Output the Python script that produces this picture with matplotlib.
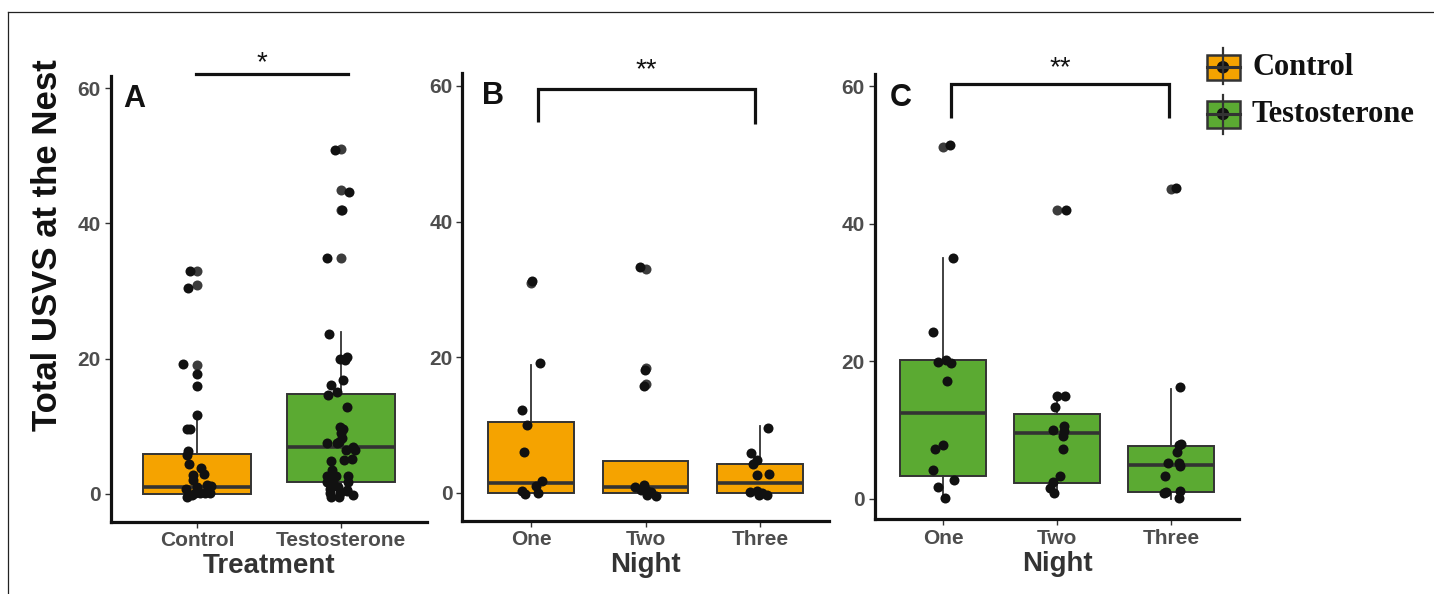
import numpy as np
import matplotlib
matplotlib.use('Agg')
import matplotlib.pyplot as plt
from matplotlib.patches import Rectangle, Circle
from matplotlib.lines import Line2D

plt.rcParams['font.family'] = ['Liberation Sans', 'DejaVu Sans']

ORANGE = '#F5A300'
GREEN = '#5BAA32'
EDGE = '#333333'
TXT = '#4D4D4D'

# ---------------- data ----------------
# Panel A: treatment
A_groups = ['Control', 'Testosterone']
A_box = [dict(q1=0.0, med=1.0, q3=5.9, whislo=0.0, whishi=11.7),
         dict(q1=1.8, med=7.0, q3=14.8, whislo=0.0, whishi=23.9)]
A_ctrl_y = [32.9, 30.5, 19.2, 17.7, 16.0, 11.7, 9.6, 9.6, 6.3, 5.8, 4.4, 3.8, 2.9, 2.8,
            2.1, 1.1, 1.3, 1.2, 0.7, 0.2, 0.1, 0.1, -0.4, -0.15, 0.1]
A_ctrl_dx = [-0.05, -0.064, -0.095, 0.0, 0.0, 0.0, -0.07, -0.05, -0.06, -0.067, -0.058, 0.03,
             0.05, -0.03, -0.025, 0.0, 0.067, 0.095, -0.076, 0.021, 0.056, 0.09, -0.072,
             -0.037, -0.014]
A_ctrl_out = [32.9, 30.9, 19.0]
A_test_y = [50.8, 44.7, 42.0, 34.9, 23.7, 20.0, 20.2, 19.8, 16.9, 16.1, 15.1, 14.6, 12.8,
            9.9, 9.6, 9.0, 8.2, 7.6, 7.5, 7.7, 6.5, 7.0, 6.5, 5.0, 5.1, 4.8, 3.6, 2.7, 2.6,
            2.6, 1.7, 1.7, 1.7, 0.8, 1.1, 0.6, 0.1, 0.1, 0.5, -0.5, -0.5, -0.2]
A_test_dx = [-0.042, 0.058, 0.005, -0.097, -0.083, -0.007, 0.044, 0.028, 0.012, -0.072,
             -0.03, -0.088, 0.044, -0.007, 0.012, -0.002, 0.005, -0.095, -0.026, -0.012,
             0.035, 0.085, 0.097, 0.021, 0.074, -0.072, -0.06, -0.095, -0.035, 0.051, -0.1,
             -0.053, 0.051, -0.076, -0.019, 0.04, -0.076, -0.007, 0.04, -0.072, -0.012, 0.085]
A_test_out = [51.0, 44.9, 42.0, 34.9]

# Panels B (control) and C (testosterone): night
nights = ['One', 'Two', 'Three']
B_box = [dict(q1=0.0, med=1.5, q3=10.4, whislo=0.0, whishi=18.9),
         dict(q1=0.0, med=0.9, q3=4.7, whislo=0.0, whishi=4.7),
         dict(q1=0.0, med=1.5, q3=4.2, whislo=0.0, whishi=9.9)]
B_y = [[31.3, 19.2, 12.2, 10.0, 6.0, 1.8, 1.0, 0.25, -0.15, -0.05],
       [33.3, 18.1, 15.8, 0.9, 1.2, 0.4, 0.2, -0.3, -0.4, 0.4],
       [9.6, 5.85, 4.9, 4.3, 2.65, 2.8, 0.2, 0.35, -0.3, -0.35, 0.05]]
B_dx = [[0.012, 0.08, -0.076, -0.035, -0.059, 0.093, 0.044, -0.08, -0.052, 0.064],
        [-0.046, -0.003, -0.015, -0.09, -0.015, 0.006, 0.05, 0.011, 0.093, -0.038],
        [0.067, -0.079, -0.029, -0.059, -0.029, 0.079, -0.087, -0.029, -0.006, 0.064, 0.015]]
B_out = [[31.0], [33.0, 18.4, 16.0], []]

C_box = [dict(q1=3.3, med=12.5, q3=20.2, whislo=0.0, whishi=35.0),
         dict(q1=2.3, med=9.6, q3=12.35, whislo=0.8, whishi=15.0),
         dict(q1=1.0, med=4.9, q3=7.7, whislo=0.0, whishi=16.0)]
C_y = [[51.4, 35.0, 24.3, 19.9, 20.2, 19.8, 17.2, 7.8, 7.2, 4.2, 2.8, 1.7, 0.1],
       [42.0, 15.0, 14.9, 13.3, 10.0, 10.6, 9.9, 9.15, 7.2, 3.3, 2.5, 1.55, 0.83],
       [45.2, 16.3, 7.9, 8.0, 6.9, 5.2, 5.2, 4.8, 3.3, 0.9, 1.0, 1.1, 0.1]]
C_dx = [[0.064, 0.085, -0.085, -0.046, 0.026, 0.068, 0.038, 0.003, -0.073, -0.085, 0.094,
         -0.041, 0.018],
        [0.079, 0.07, -0.003, -0.018, -0.038, 0.061, 0.061, 0.055, 0.05, 0.026, -0.032,
         -0.061, -0.026],
        [0.047, 0.082, 0.067, 0.088, 0.053, -0.026, 0.067, 0.082, -0.05, -0.064, -0.041,
         0.082, 0.067]]
C_out = [[51.2], [42.0], [45.0]]

W, H = 1434, 594
fig = plt.figure(figsize=(W / 100, H / 100), dpi=100)


def px_axes(x0, x1, ytop, ybot):
    return fig.add_axes([x0 / W, 1 - ybot / H, (x1 - x0) / W, (ybot - ytop) / H])


def style(ax, labels, xlim, ylim, xlabel):
    ax.set_xlim(*xlim)
    ax.set_ylim(*ylim)
    for s in ['top', 'right']:
        ax.spines[s].set_visible(False)
    for s in ['left', 'bottom']:
        ax.spines[s].set_linewidth(2.3)
        ax.spines[s].set_color('#111111')
    ax.set_xticks(range(1, len(labels) + 1))
    ax.set_xticklabels(labels)
    ax.set_yticks([0, 20, 40, 60])
    ax.tick_params(length=4, width=1, color=EDGE, labelcolor=TXT, labelsize=15, pad=3)
    for t in ax.get_xticklabels() + ax.get_yticklabels():
        t.set_fontweight('bold')
    ax.set_xlabel(xlabel, fontsize=20, fontweight='bold', color='#333333', labelpad=2)
    ax.patch.set_alpha(0)


def boxes(ax, stats, colors, ys, dxs, outs):
    bp = ax.bxp(stats, positions=range(1, len(stats) + 1), widths=0.75, patch_artist=True,
                showfliers=False, showcaps=False,
                boxprops=dict(edgecolor=EDGE, linewidth=1.4),
                medianprops=dict(color=EDGE, linewidth=2.6),
                whiskerprops=dict(color=EDGE, linewidth=1.3))
    for b, c in zip(bp['boxes'], colors):
        b.set_facecolor(c)
    for i, (y, dx, o) in enumerate(zip(ys, dxs, outs)):
        pos = i + 1
        if o:
            ax.scatter([pos] * len(o), o, s=52, color='#3c3c3c', zorder=4, linewidths=0,
                       clip_on=False)
        ax.scatter(pos + np.array(dx), y, s=52, color='#111111', zorder=5, linewidths=0,
                   clip_on=False)


def bracket(ax, x0, x1, ytop, yleg0, yleg1, label, ylab):
    ax.plot([x0, x0, x1, x1], [yleg0, ytop, ytop, yleg1], color='#111111', lw=2.3,
            clip_on=False, solid_capstyle='butt', solid_joinstyle='miter')
    ax.text((x0 + x1) / 2, ylab, label, ha='center', va='center', fontsize=20,
            color='#111111', clip_on=False)


# ---- Panel A
axA = px_axes(110.6, 427.4, 76.5, 521.7)
boxes(axA, A_box, [ORANGE, GREEN], [A_ctrl_y, A_test_y], [A_ctrl_dx, A_test_dx],
      [A_ctrl_out, A_test_out])
style(axA, A_groups, (0.4, 2.6), (-4.1, 61.7), 'Treatment')
axA.plot([0.99, 2.05], [62.0, 62.0], color='#111111', lw=2.3, clip_on=False)
axA.text(1.45, 63.6, '*', ha='center', va='center', fontsize=20, color='#111111')
axA.text(0.49, 58.4, 'A', ha='left', va='center', fontsize=22, fontweight='bold',
         color='#111111')

# ---- Panel B
axB = px_axes(462.3, 828.7, 73.1, 520.5)
boxes(axB, B_box, [ORANGE] * 3, B_y, B_dx, B_out)
style(axB, nights, (0.4, 3.6), (-4.06, 61.9), 'Night')
bracket(axB, 1.064, 2.956, 59.5, 54.7, 54.4, '**', 62.3)
axB.text(0.57, 58.5, 'B', ha='left', va='center', fontsize=22, fontweight='bold',
         color='#111111')

# ---- Panel C
axC = px_axes(874.6, 1239.4, 74.3, 519.3)
boxes(axC, C_box, [GREEN] * 3, C_y, C_dx, C_out)
style(axC, nights, (0.4, 3.6), (-2.95, 61.7), 'Night')
bracket(axC, 1.07, 2.985, 60.35, 55.4, 55.4, '**', 62.6)
axC.text(0.53, 58.3, 'C', ha='left', va='center', fontsize=22, fontweight='bold',
         color='#111111')

# ---- shared y label
fig.text(48 / W, 1 - 245 / H, 'Total USVS at the Nest', rotation=90, ha='center',
         va='center', fontsize=25, fontweight='bold', color='#111111')

# ---- overlay: frame lines + legend
ov = fig.add_axes([0, 0, 1, 1], zorder=-1)
ov.set_xlim(0, W)
ov.set_ylim(H, 0)
ov.axis('off')
ov.add_line(Line2D([8, W], [12, 12], color='#222222', lw=0.9))
ov.add_line(Line2D([8, 8], [12, H], color='#222222', lw=0.9))

leg = [('Control', ORANGE, 54.5, 80.0, 47.5, 84.0),
       ('Testosterone', GREEN, 100.5, 127.5, 94.5, 134.0)]
for name, col, yt, yb, wt, wb in leg:
    xm = 1223.0
    ov.add_line(Line2D([xm, xm], [wt, wb], color=EDGE, lw=1.6))
    ov.add_patch(Rectangle((1206.5, yt), 33.5, yb - yt, facecolor=col, edgecolor=EDGE,
                           lw=1.8))
    ym = (yt + yb) / 2
    ov.add_line(Line2D([1206.5, 1240], [ym, ym], color=EDGE, lw=2.2))
    ov.add_patch(Circle((xm, ym), 5.5, color='#111111'))
    ov.text(1252, ym + 0.5, name, ha='left', va='center', fontsize=22, fontweight='bold',
            family=['Liberation Serif', 'DejaVu Serif'], color='#111111')

fig.savefig('out.png', dpi=100)
